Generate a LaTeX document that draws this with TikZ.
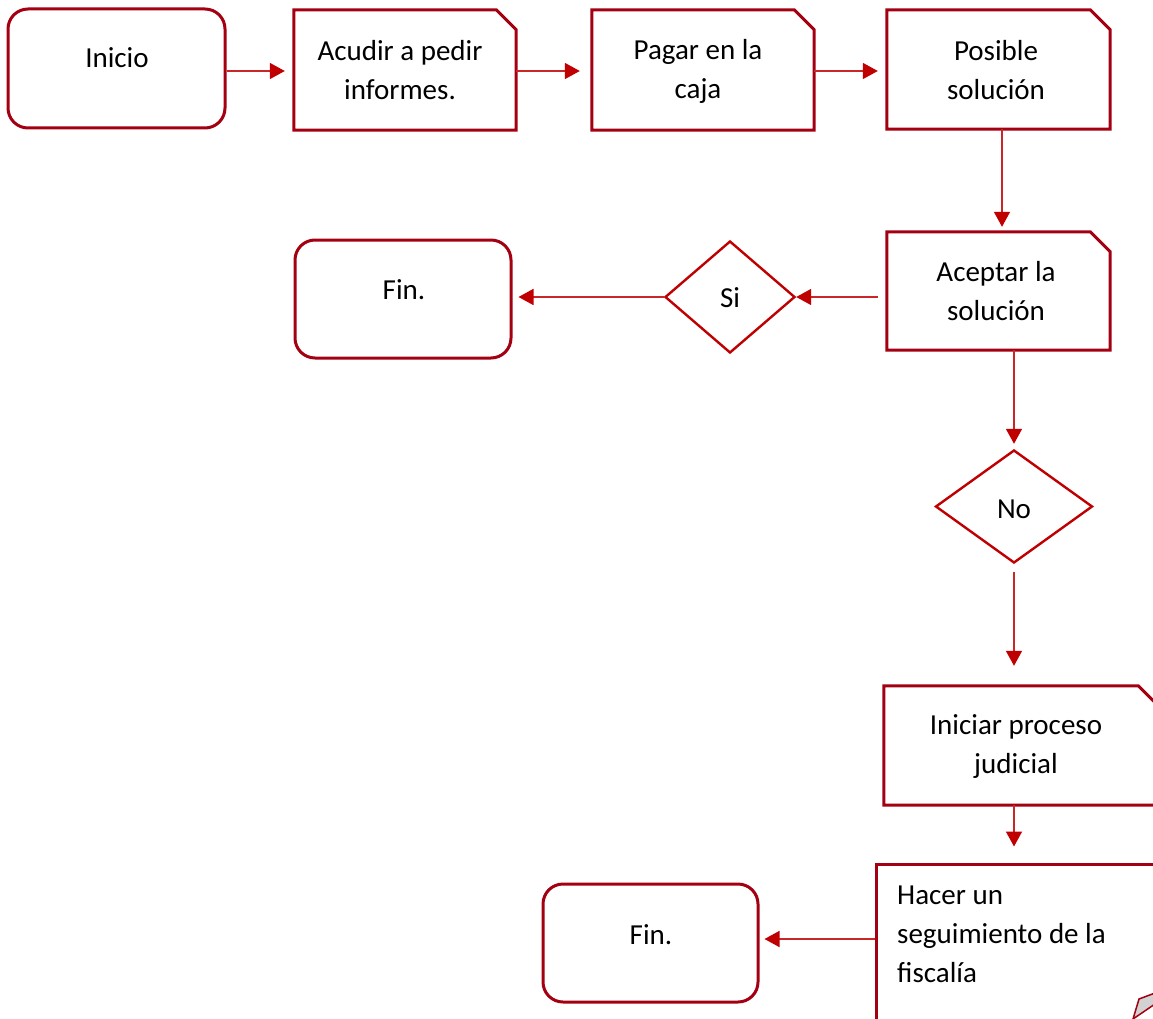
\documentclass[tikz,border=0pt]{standalone}
\usepackage{fontspec}
\setmainfont{Carlito}
\usetikzlibrary{arrows.meta,shapes.geometric,calc}
\definecolor{boxred}{HTML}{A30012}
\definecolor{linered}{HTML}{C00000}
\begin{document}
\begin{tikzpicture}[x=1pt,y=-1pt,
  every node/.style={font=\fontsize{29}{39}\selectfont},
  startbox/.style={draw=boxred,line width=3pt,rounded corners=20pt,inner sep=0pt},
  snipframe/.style={inner sep=0pt},
  snipline/.style={draw=boxred,line width=3pt,line join=miter},
  plainbox/.style={draw=boxred,line width=3pt,inner sep=0pt},
  decision/.style={draw=linered,line width=2.4pt,diamond,inner sep=0pt},
  arr/.style={draw=linered!85,line width=1.6pt,
    -{Triangle[length=15pt,width=16pt,color=linered]}},
  lbl/.style={align=center,inner sep=0pt}
]
\useasboundingbox (0,0) rectangle (1153,1019);
\clip (0,0) rectangle (1153,1019);

% outline of a box with its top right corner cut off
\newcommand\snipoutline[1]{%
  \draw[snipline] (#1.south west) -- (#1.north west)
    -- ($(#1.north east)+(-20,0)$) -- ($(#1.north east)+(0,20)$)
    -- (#1.south east) -- cycle;}

% shapes
\node[startbox,minimum width=217pt,minimum height=119pt] (inicio) at (116.5,68.5) {};
\node[snipframe,minimum width=222pt,minimum height=120pt] (acudir) at (405,70) {};
\node[snipframe,minimum width=222pt,minimum height=120pt] (pagar) at (703,70) {};
\node[snipframe,minimum width=223pt,minimum height=119pt] (posible) at (998.5,69.5) {};
\node[snipframe,minimum width=223pt,minimum height=118pt] (aceptar) at (998.5,291) {};
\node[decision,minimum width=130pt,minimum height=112pt] (si) at (730,297) {};
\node[startbox,minimum width=216pt,minimum height=118pt] (fin1) at (403,299) {};
\node[decision,minimum width=157pt,minimum height=113pt] (no) at (1014,506.5) {};
\node[snipframe,minimum width=274pt,minimum height=119pt] (iniciar) at (1021,745.5) {};
\node[plainbox,minimum width=300pt,minimum height=200pt] (hacer) at (1026,964) {};
\node[startbox,minimum width=215pt,minimum height=118pt] (fin2) at (650.5,943) {};

\snipoutline{acudir}
\snipoutline{pagar}
\snipoutline{posible}
\snipoutline{aceptar}
\snipoutline{iniciar}

% texts
\node[lbl] (inicio-t) at (117,58) {Inicio};
\node[lbl] (acudir-t) at (400,70) {Acudir a pedir\\informes.};
\node[lbl] (pagar-t) at (698,71) {Pagar en la\\caja};
\node[lbl] (posible-t) at (996,70) {Posible\\solución};
\node[lbl] (aceptar-t) at (996,291) {Aceptar la\\solución};
\node[lbl] (si-t) at (730,298) {Si};
\node[lbl] (fin1-t) at (404,290) {Fin.};
\node[lbl] (no-t) at (1014,509) {No};
\node[lbl] (iniciar-t) at (1016,747) {Iniciar proceso\\judicial};
\node[align=left,inner sep=0pt,anchor=west] (hacer-t) at (897,934) {Hacer un\\seguimiento de la\\fiscalía};
\node[lbl] (fin2-t) at (651,935) {Fin.};

% connectors
\draw[arr,shorten >=9pt] (inicio.east |- 0,71) -- (acudir.west |- 0,71);
\draw[arr,shorten >=12pt] (acudir.east |- 0,71) -- (pagar.west |- 0,71);
\draw[arr,shorten >=9pt] (pagar.east |- 0,71) -- (posible.west |- 0,71);
\draw[arr,shorten >=5pt] (posible.south -| 1002,0) -- (aceptar.north -| 1002,0);
\draw[arr,shorten <=9pt] (aceptar.west |- si.east) -- (si.east);
\draw[arr,shorten >=6pt] (si.west) -- (fin1.east |- si.west);
\draw[arr,shorten >=5pt] (aceptar.south -| no.north) -- (no.north);
\draw[arr,shorten <=8pt,shorten >=20pt] (no.south) -- (iniciar.north -| no.south);
\draw[arr,shorten >=16pt] (iniciar.south -| no.south) -- (hacer.north -| no.south);
\draw[arr,shorten >=5pt] (hacer.west |- 0,939) -- (fin2.east |- 0,939);

% pencil tip at the corner
\filldraw[draw=boxred,fill=gray!35,line width=1.5pt,line join=miter]
  (1133,1019) -- (1139,999) -- (1155,993) -- (1155,1004) -- cycle;
\end{tikzpicture}
\end{document}
